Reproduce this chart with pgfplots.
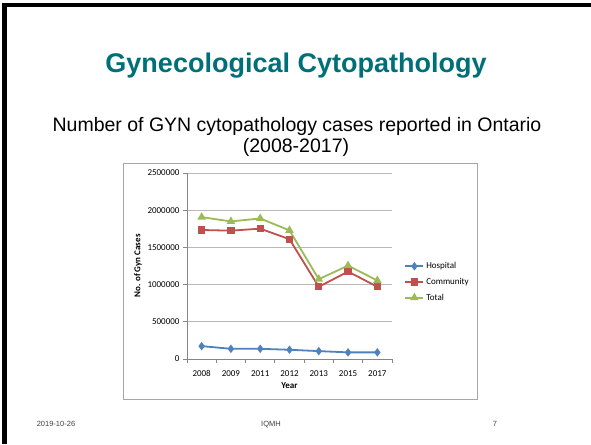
\documentclass[border=0pt]{standalone}
\usepackage{pgfplots}
\pgfplotsset{compat=1.18}
\usepackage{fontspec}
\setmainfont{Liberation Sans}
\newfontfamily\calibri{Carlito}
\definecolor{titleteal}{RGB}{0,112,120}
\definecolor{hospblue}{RGB}{79,129,189}
\definecolor{commred}{RGB}{192,80,77}
\definecolor{totgreen}{RGB}{155,187,89}
\definecolor{xlgray}{RGB}{134,134,134}

\begin{document}
\begin{tikzpicture}[x=1pt,y=1pt]
% slide frame (591 x 444)
\path[use as bounding box, fill=white] (0,0) rectangle (591,444);
\draw[black, line width=4.4pt] (4.5,0) -- (4.5,439) -- (591,439);

\node[anchor=base, text=titleteal, font=\fontsize{27}{32}\selectfont\bfseries]
    at (296,371) {Gynecological Cytopathology};
\node[anchor=base, font=\fontsize{19.5}{23}\selectfont]
    at (297,312) {Number of GYN cytopathology cases reported in Ontario};
\node[anchor=base, font=\fontsize{19.5}{23}\selectfont]
    at (296,291) {(2008-2017)};

% chart object border
\draw[gray!70, line width=1pt] (123,44) rectangle (477,280);

\begin{axis}[
    at={(187pt,85pt)}, anchor=south west,
    scale only axis,
    width=205pt, height=186pt,
    xmin=-0.5, xmax=6.5,
    ymin=0, ymax=2500000,
    xtick={0,...,6},
    xticklabels={2008,2009,2011,2012,2013,2015,2017},
    minor xtick={-0.5,0.5,...,6.5},
    ytick={0,500000,1000000,1500000,2000000,2500000},
    yticklabels={0,500000,1000000,1500000,2000000,2500000},
    scaled y ticks=false,
    axis lines*=left,
    axis line style={xlgray, line width=0.8pt},
    tick align=outside,
    major tick length=4pt,
    minor tick length=4pt,
    major x tick style={draw=none},
    minor x tick style={xlgray, line width=0.8pt},
    ytick style={xlgray, line width=0.8pt},
    ymajorgrids=true,
    grid style={gray!55, line width=0.7pt},
    tick label style={font=\calibri\fontsize{9}{11}\selectfont, black},
    x tick label style={yshift=-4pt},
    xlabel={Year},
    ylabel={No. of Gyn Cases},
    xlabel style={font=\calibri\bfseries\fontsize{9}{11}\selectfont,
        at={(rel axis cs:0.5,-0.145)}, anchor=center},
    ylabel style={font=\calibri\bfseries\fontsize{9}{11}\selectfont,
        at={(rel axis cs:-0.239,0.5)}, anchor=center},
    legend style={at={(1.06,0.414)}, anchor=west, draw=none, fill=none,
        font=\calibri\fontsize{9}{11}\selectfont, row sep=4pt,
        inner sep=0pt},
    legend cell align=left,
    legend image code/.code={
        \draw[mark repeat=2, mark phase=2, #1]
            plot coordinates {(0pt,0pt) (9pt,0pt) (18pt,0pt)};
    },
    clip=false,
]
\addplot[hospblue, line width=1.8pt, mark=diamond*, mark size=2.8pt,
    mark options={solid, fill=hospblue}]
    coordinates {(0,173000) (1,137000) (2,137000) (3,124000) (4,106000) (5,89000) (6,89000)};
\addlegendentry{Hospital}
\addplot[commred, line width=1.8pt, mark=square*, mark size=2.8pt,
    mark options={solid, fill=commred}]
    coordinates {(0,1734000) (1,1725000) (2,1752000) (3,1610000) (4,971000) (5,1175000) (6,971000)};
\addlegendentry{Community}
\addplot[totgreen, line width=1.8pt, mark=triangle*, mark size=3.2pt,
    mark options={solid, fill=totgreen}]
    coordinates {(0,1907000) (1,1849000) (2,1889000) (3,1729000) (4,1073000) (5,1255000) (6,1055000)};
\addlegendentry{Total}
\end{axis}

% footer
\node[anchor=base, text=black!75, font=\fontsize{7.5}{9}\selectfont]
    at (56,17) {2019-10-26};
\node[anchor=base, text=black!75, font=\fontsize{7.5}{9}\selectfont]
    at (271,17) {IQMH};
\node[anchor=base, text=black!75, font=\fontsize{7.5}{9}\selectfont]
    at (495,17) {7};
\end{tikzpicture}
\end{document}
